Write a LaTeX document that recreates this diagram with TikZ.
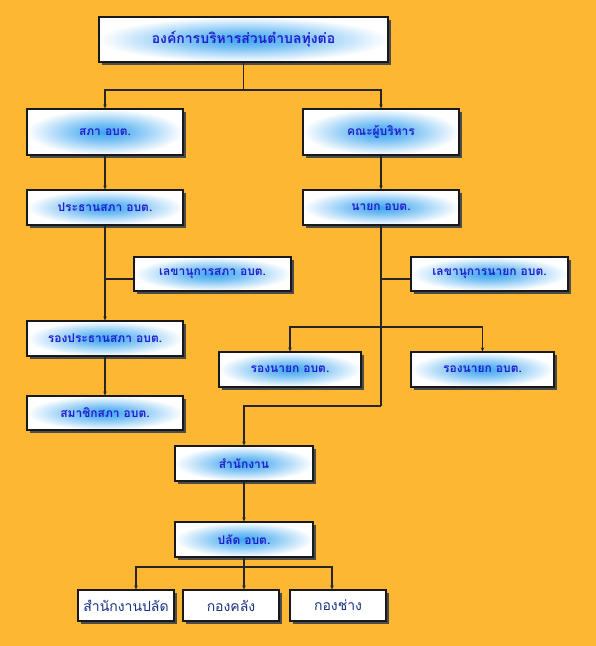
\documentclass[tikz,border=0pt]{standalone}
\usepackage{fontspec}
\newfontfamily\thaifont[Script=Thai]{Loma}
\usetikzlibrary{arrows.meta, shadows}
\definecolor{bgorange}{RGB}{253,183,50}
\definecolor{glowblue}{RGB}{60,165,240}
\definecolor{textblue}{RGB}{35,30,205}
\definecolor{textnavy}{RGB}{25,50,130}
\pgfdeclareradialshading{glow}{\pgfpoint{0bp}{0bp}}{color(0bp)=(glowblue); color(9bp)=(glowblue!70!white); color(25bp)=(white); color(50bp)=(white)}

\begin{document}
\begin{tikzpicture}[x=1pt, y=-1pt,
		unit/.style={draw=black!90, line width=1.2pt, shading=glow, inner sep=0pt,
			font=\thaifont\bfseries\fontsize{12}{14}\selectfont, text=textblue,
			general shadow={fill=black!70, shadow xshift=2.5pt, shadow yshift=-2.5pt}},
		div/.style={draw=black!90, line width=1.2pt, fill=white, inner sep=0pt,
			minimum width=96pt, minimum height=31pt,
			font=\thaifont\fontsize{14}{16}\selectfont, text=textnavy,
			general shadow={fill=black!70, shadow xshift=2.5pt, shadow yshift=-2.5pt}},
		line/.style={line width=1.1pt, black!85},
		arr/.style={line, -{Stealth[length=4pt, width=3.5pt]}}]
	\useasboundingbox[fill=bgorange] (0,0) rectangle (596,646);
	
	%--- top ---
	\node[unit, minimum width=289pt, minimum height=45pt, font=\thaifont\bfseries\fontsize{14}{16}\selectfont]
		(org) at (243.5,39.5) {องค์การบริหารส่วนตำบลทุ่งต่อ};
	
	%--- council side ---
	\node[unit, minimum width=156pt, minimum height=46pt] (sapa) at (105,132) {สภา อบต.};
	\node[unit, minimum width=156pt, minimum height=35pt] (prathan) at (105,207.5) {ประธานสภา อบต.};
	\node[unit, minimum width=157pt, minimum height=34pt] (lekhasapa) at (212.5,274) {เลขานุการสภา อบต.};
	\node[unit, minimum width=156pt, minimum height=35pt] (rongprathan) at (105,338.5) {รองประธานสภา อบต.};
	\node[unit, minimum width=156pt, minimum height=34pt] (samachik) at (105,413) {สมาชิกสภา อบต.};
	
	%--- executive side ---
	\node[unit, minimum width=156pt, minimum height=46pt] (khana) at (381,132) {คณะผู้บริหาร};
	\node[unit, minimum width=156pt, minimum height=35pt] (nayok) at (381,207.5) {นายก อบต.};
	\node[unit, minimum width=157pt, minimum height=34pt] (lekhanayok) at (489.5,274) {เลขานุการนายก อบต.};
	\node[unit, minimum width=142pt, minimum height=35pt] (rongL) at (290,369.5) {รองนายก อบต.};
	\node[unit, minimum width=143pt, minimum height=35pt] (rongR) at (482.5,369.5) {รองนายก อบต.};
	
	%--- office ---
	\node[unit, minimum width=138pt, minimum height=35pt] (office) at (244,463.5) {สำนักงาน};
	\node[unit, minimum width=138pt, minimum height=35pt] (palat) at (244,539.5) {ปลัด อบต.};
	\node[div] (divA) at (126,605.5) {สำนักงานปลัด};
	\node[div] (divB) at (231,605.5) {กองคลัง};
	\node[div] (divC) at (338,605.5) {กองช่าง};
	
	%--- connectors ---
	\coordinate (jtop) at (org.south |- 0,90);
	\draw[line] (org.south) -- (jtop);
	\draw[arr] (jtop) -| (sapa.north);
	\draw[arr] (jtop) -| (khana.north);
	
	\draw[arr] (sapa.south) -- (prathan.north);
	\draw[arr] (prathan.south) -- (rongprathan.north);
	\coordinate (jsapa) at (prathan.south |- 0,279);
	\draw[line] (jsapa) -- (jsapa -| lekhasapa.west);
	\draw[arr] (rongprathan.south) -- (samachik.north);
	
	\draw[arr] (khana.south) -- (nayok.north);
	\coordinate (jnayok) at (nayok.south |- 0,406);
	\draw[line] (nayok.south) -- (jnayok);
	\draw[arr] (jnayok) -| (office.north);
	\coordinate (jlekha) at (nayok.south |- 0,279);
	\draw[line] (jlekha) -- (jlekha -| lekhanayok.west);
	\coordinate (jrong) at (nayok.south |- 0,327);
	\draw[arr] (jrong) -| (rongL.north);
	\draw[arr] (jrong) -| (rongR.north);
	
	\draw[arr] (office.south) -- (palat.north);
	\coordinate (jdiv) at (palat.south |- 0,567);
	\draw[arr] (palat.south) -- (palat.south |- divB.north);
	\draw[arr] (jdiv) -| ([xshift=10pt]divA.north);
	\draw[arr] (jdiv) -| ([xshift=-6pt]divC.north);
\end{tikzpicture}
\end{document}
